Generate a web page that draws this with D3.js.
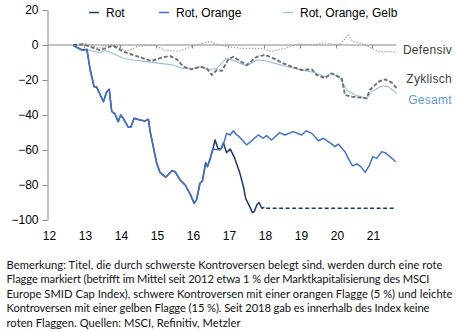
<!DOCTYPE html>
<html><head><meta charset="utf-8">
<script src="https://cdn.jsdelivr.net/npm/d3@7/dist/d3.min.js"></script>
<style>
html,body{margin:0;padding:0;background:#fff;}
svg{display:block;}
</style></head>
<body>
<svg id="chart" width="467" height="332"></svg>
<script>
// ---- data (decimal years, index values) ----
const sharedDates = [2012.70,2012.81,2012.96,2013.08,2013.17,2013.28,2013.35,2013.54,2013.63,2013.70,2013.77,2013.86,2013.95,2014.02,2014.09,2014.23,2014.30,2014.39,2014.56,2014.69,2014.79,2014.83,2015.02,2015.11,2015.27,2015.44,2015.53,2015.67,2015.81,2015.94,2016.06,2016.13,2016.22,2016.29,2016.38,2016.43,2016.50,2016.58];
const sharedValues = [0,-1.5,-3,-2.5,-14,-23.8,-24,-32.4,-26.7,-25.3,-38,-39.4,-43.8,-40,-41.9,-47,-47,-41.9,-42.9,-43.4,-42.5,-48.6,-67.6,-72.8,-75.6,-71.8,-72.4,-77.1,-80,-84.8,-90.5,-88.2,-79,-77.7,-67.2,-69.5,-65.3,-59.4];

const rotDates = [2016.64,2016.73,2016.82,2016.87,2016.96,2017.06,2017.19,2017.33,2017.43,2017.49,2017.58,2017.68,2017.73,2017.80,2017.86,2017.94,2018.01];
const rotValues = [-54.3,-59.6,-59,-55.8,-61.5,-59.4,-64.8,-73.3,-81,-87.6,-91.4,-95.8,-95.2,-91.4,-90,-93.3,-92.8];
const rotFlatDates = [2018.06,2021.66];
const rotFlatValues = [-93.3,-93.3];

const rotOrangeDates = [2016.64,2016.78,2016.87,2016.96,2017.06,2017.15,2017.24,2017.31,2017.52,2017.63,2017.84,2017.98,2018.07,2018.21,2018.43,2018.58,2018.81,2019.05,2019.17,2019.33,2019.51,2019.65,2019.83,2019.97,2020.06,2020.25,2020.34,2020.46,2020.58,2020.69,2020.81,2020.93,2021.02,2021.13,2021.27,2021.36,2021.50,2021.66];
const rotOrangeValues = [-59.6,-60,-57,-50.5,-51.4,-49,-51.4,-52.4,-57.1,-55.2,-51.4,-53.3,-51.8,-54.3,-50.1,-51.4,-49.5,-51.4,-49,-50.5,-54.7,-53.3,-55.8,-58.1,-56.6,-61,-64.8,-69.1,-68,-69.5,-72.8,-68.6,-63.8,-64.8,-61,-61.5,-63.8,-66.7];

const gesamtDates = [2012.70,2012.94,2013.12,2013.44,2013.58,2013.81,2014.09,2014.37,2014.74,2015.11,2015.48,2015.71,2016.04,2016.22,2016.45,2016.69,2016.96,2017.24,2017.52,2017.80,2018.03,2018.31,2018.58,2019.05,2019.42,2019.69,2019.88,2020.11,2020.30,2020.53,2020.85,2020.99,2021.27,2021.45,2021.69];
const gesamtValues = [0,-2.5,-2.9,-4.4,-3.2,-4.8,-7.6,-8.6,-9.5,-10.5,-11.4,-13.3,-13.3,-12.4,-14.3,-13.3,-7.6,-9.5,-12,-8.6,-9,-10.5,-12,-14.3,-15.8,-18.1,-16.2,-19,-25.7,-28.6,-30.5,-26.7,-23.4,-23.8,-27.6];

const zyklischDates = [2012.70,2012.98,2013.17,2013.44,2013.81,2014.09,2014.37,2014.65,2014.88,2015.20,2015.39,2015.58,2015.76,2015.99,2016.22,2016.41,2016.55,2016.69,2016.83,2017.01,2017.15,2017.29,2017.52,2017.80,2018.03,2018.26,2018.54,2018.77,2019.05,2019.33,2019.46,2019.69,2019.88,2020.16,2020.25,2020.44,2020.62,2020.85,2020.94,2021.18,2021.36,2021.55,2021.69];
const zyklischValues = [0,0.4,-1,-2.9,-0.4,-3.8,-5.7,-7.6,-9.1,-7,-6.3,-8.2,-12.4,-13.9,-12.4,-13.3,-17.1,-14.3,-14.8,-8.2,-6.7,-8.6,-11.4,-6.7,-5.7,-7.6,-10.5,-12.4,-14.3,-13.9,-17.1,-19,-16.2,-19,-28.6,-29.5,-29.9,-30.5,-25.7,-21,-19.6,-21.5,-24.8];

const defensivDates = [2012.70,2013.03,2013.40,2013.81,2014.19,2014.51,2014.74,2014.97,2015.25,2015.62,2016.04,2016.50,2016.69,2017.00,2017.38,2017.94,2018.21,2018.58,2018.95,2019.33,2019.69,2020.06,2020.18,2020.33,2020.48,2020.71,2020.99,2021.18,2021.69];
const defensivValues = [0,0.8,-1.7,0.2,-3.5,-0.7,-0.2,-0.2,-3,-3.6,-0.6,2.1,0.4,-1,-1.9,-1.9,-3.6,-1.9,0.6,0,1.3,0,1.9,5.7,1.9,1,-1.9,-3.8,-3.8];

const yTicks = [-100,-80,-60,-40,-20,0,20];
const xTickYears = [2012,2013,2014,2015,2016,2017,2018,2019,2020,2021];
const xTickLabels = ["12","13","14","15","16","17","18","19","20","21"];
const legendLabels = ["Rot","Rot, Orange","Rot, Orange, Gelb"];
const endLabels = ["Defensiv","Zyklisch","Gesamt"];
const endLabelValues = [-2.8,-19.5,-31.5];
const noteLines = [
 "Bemerkung: Titel, die durch schwerste Kontroversen belegt sind, werden durch eine rote",
 "Flagge markiert (betrifft im Mittel seit 2012 etwa 1 % der Marktkapitalisierung des MSCI",
 "Europe SMID Cap Index), schwere Kontroversen mit einer orangen Flagge (5 %) und leichte",
 "Kontroversen mit einer gelben Flagge (15 %). Seit 2018 gab es innerhalb des Index keine",
 "roten Flaggen. Quellen: MSCI, Refinitiv, Metzler"
];
const noteWidths = [436,423,446,423,234];

// ---- drawing ----
const svg = d3.select("#chart");
const font = "'Liberation Sans', Arial, sans-serif";
const x = d3.scaleLinear().domain([2012, 2022]).range([48, 408]);
const y = d3.scaleLinear().domain([-100, 20]).range([220, 10]);
const zip = (d, v) => d.map((t, i) => [t, v[i]]);
const line = d3.line().x(p => x(p[0])).y(p => y(p[1]));

// y axis
const yAx = svg.append("g").attr("transform", "translate(47.5,0)")
  .call(d3.axisLeft(y).tickValues(yTicks).tickSize(5).tickSizeOuter(0).tickPadding(4).tickFormat(d3.format("d")));
yAx.select(".domain").attr("stroke", "#868686");
yAx.selectAll(".tick line").attr("stroke", "#868686");
yAx.selectAll("text").attr("font-family", font).attr("font-size", 12).attr("fill", "#000");

// zero axis line with year ticks
const endYear = 2021.68;
const zAx = svg.append("g").attr("transform", `translate(0,${y(0)})`)
  .call(d3.axisBottom(x).tickValues(xTickYears.slice(1)).tickSize(3.5).tickFormat(""));
zAx.select(".domain").remove();
zAx.selectAll(".tick line").attr("stroke", "#868686");
svg.append("line").attr("x1", x(2012)).attr("x2", x(endYear))
  .attr("y1", y(0)).attr("y2", y(0)).attr("stroke", "#868686").attr("stroke-width", 1);

// bottom year labels
const bAx = svg.append("g").attr("transform", "translate(1,228.5)")
  .call(d3.axisBottom(x).tickValues(xTickYears).tickSize(0).tickPadding(3)
    .tickFormat((d, i) => xTickLabels[i]));
bAx.select(".domain").remove();
bAx.selectAll("text").attr("font-family", font).attr("font-size", 12).attr("fill", "#000");

// series
const g = svg.append("g").attr("fill", "none").attr("stroke-linejoin", "round");
g.append("path").attr("d", line(zip(defensivDates, defensivValues)))
  .attr("stroke", "#9a9a9a").attr("stroke-width", 1.2).attr("stroke-dasharray", "1.3,1.7");
g.append("path").attr("d", line(zip(gesamtDates, gesamtValues)))
  .attr("stroke", "#95bde6").attr("stroke-width", 1.1);
g.append("path").attr("d", line(zip(zyklischDates, zyklischValues)))
  .attr("stroke", "#707070").attr("stroke-width", 1.9).attr("stroke-dasharray", "4,2");
const rotAll = zip(sharedDates, sharedValues).concat(zip(rotDates, rotValues));
g.append("path").attr("d", line(rotAll)).attr("stroke", "#1f3864").attr("stroke-width", 1.5);
g.append("path").attr("d", line(zip(rotFlatDates, rotFlatValues)))
  .attr("stroke", "#1f3864").attr("stroke-width", 1.5).attr("stroke-dasharray", "4,2.5");
const roAll = zip(sharedDates, sharedValues).concat(zip(rotOrangeDates, rotOrangeValues));
g.append("path").attr("d", line(roAll)).attr("stroke", "#4472c4").attr("stroke-width", 1.5);

// legend
const legendX = [89, 159, 283];
const legendColors = ["#1f3864", "#4472c4", "#95bde6"];
const legendW = [1.5, 1.5, 1.1];
legendLabels.forEach((lab, i) => {
  svg.append("line").attr("x1", legendX[i]).attr("x2", legendX[i] + 10)
    .attr("y1", 12.5).attr("y2", 12.5).attr("stroke", legendColors[i]).attr("stroke-width", legendW[i]);
  svg.append("text").attr("x", legendX[i] + 17).attr("y", 16.5)
    .attr("font-family", font).attr("font-size", 12).attr("fill", "#000").text(lab);
});

// end labels
const endColors = ["#404040", "#404040", "#5b9bd5"];
endLabels.forEach((lab, i) => {
  svg.append("text").attr("x", 452).attr("y", y(endLabelValues[i]) + 4)
    .attr("text-anchor", "end").attr("font-family", font).attr("font-size", 12)
    .attr("letter-spacing", 0.3).attr("fill", endColors[i]).text(lab);
});

// note
noteLines.forEach((t, i) => {
  svg.append("text").attr("x", 6.5).attr("y", 269 + i * 14.4)
    .attr("font-family", "Lato, 'Noto Sans', sans-serif").attr("font-size", 11.2)
    .attr("fill", "#111").attr("textLength", noteWidths[i]).attr("lengthAdjust", "spacing").text(t);
});
</script>
</body></html>
